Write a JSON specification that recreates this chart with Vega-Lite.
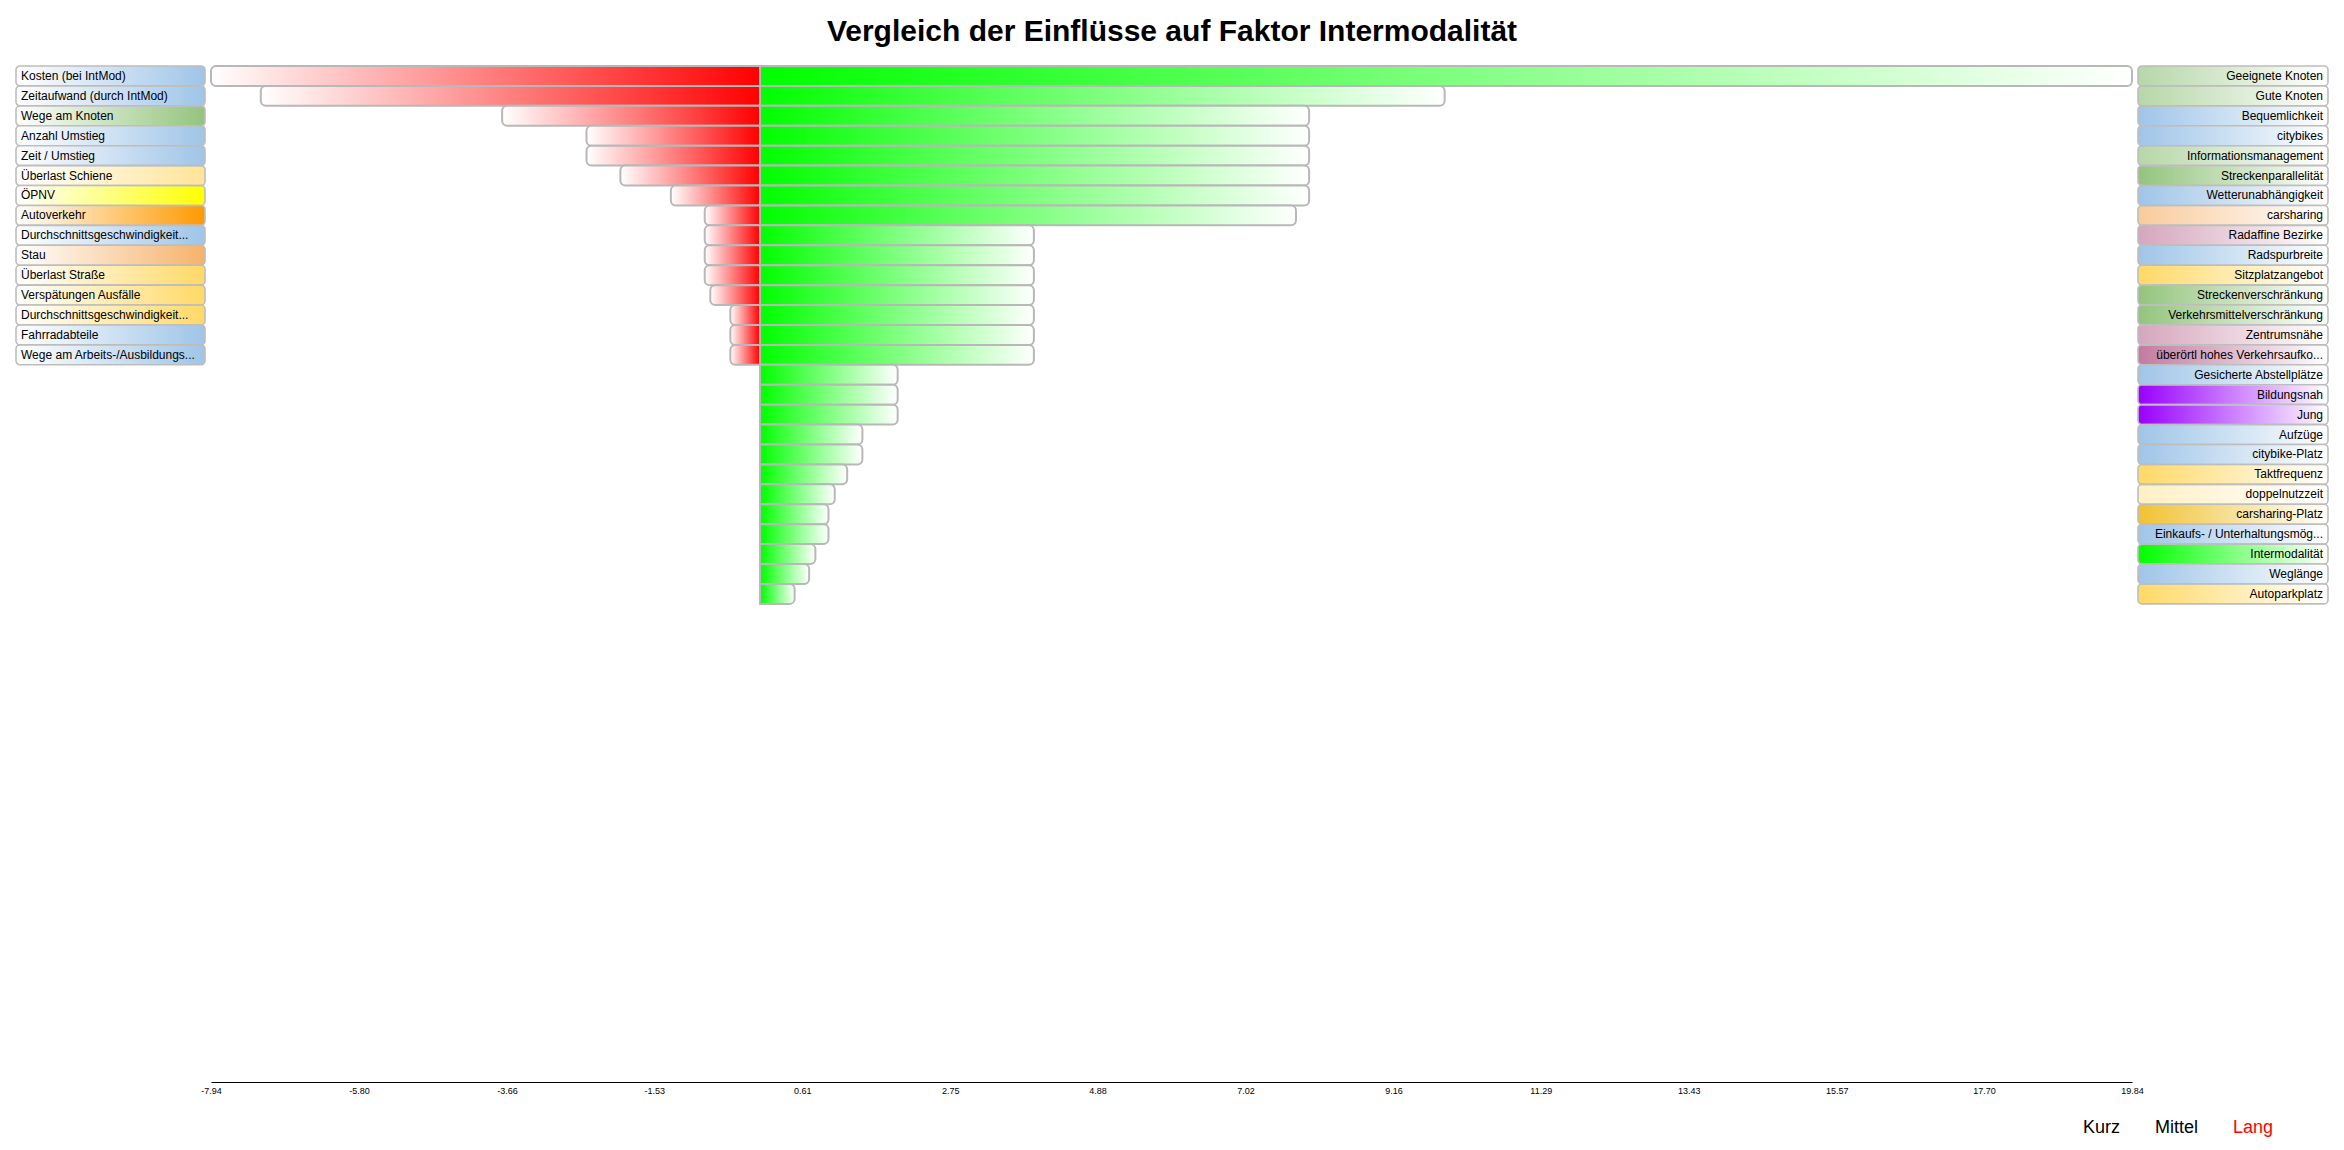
{
  "$schema": "https://vega.github.io/schema/vega-lite/v6.json",
  "title": {"text": "Vergleich der Einflüsse auf Faktor Intermodalität", "fontSize": 30, "fontWeight": "bold", "font": "Liberation Sans", "color": "#000000", "anchor": "middle", "offset": 18},
  "padding": {"left": 15, "top": 17, "right": 15, "bottom": 8},
  "bounds": "flush",
  "spacing": 6,
  "datasets": {
    "faktoren": [
      {"seite": "negativ", "rang": 1, "faktor": "Kosten (bei IntMod)", "wert": -7.94, "gruppe": "A"},
      {"seite": "negativ", "rang": 2, "faktor": "Zeitaufwand (durch IntMod)", "wert": -7.22, "gruppe": "A"},
      {"seite": "negativ", "rang": 3, "faktor": "Wege am Knoten", "wert": -3.73, "gruppe": "C"},
      {"seite": "negativ", "rang": 4, "faktor": "Anzahl Umstieg", "wert": -2.51, "gruppe": "A"},
      {"seite": "negativ", "rang": 5, "faktor": "Zeit / Umstieg", "wert": -2.51, "gruppe": "A"},
      {"seite": "negativ", "rang": 6, "faktor": "Überlast Schiene", "wert": -2.02, "gruppe": "D"},
      {"seite": "negativ", "rang": 7, "faktor": "ÖPNV", "wert": -1.29, "gruppe": "E"},
      {"seite": "negativ", "rang": 8, "faktor": "Autoverkehr", "wert": -0.80, "gruppe": "F"},
      {"seite": "negativ", "rang": 9, "faktor": "Durchschnittsgeschwindigkeit...", "wert": -0.80, "gruppe": "A"},
      {"seite": "negativ", "rang": 10, "faktor": "Stau", "wert": -0.80, "gruppe": "G"},
      {"seite": "negativ", "rang": 11, "faktor": "Überlast Straße", "wert": -0.80, "gruppe": "H"},
      {"seite": "negativ", "rang": 12, "faktor": "Verspätungen Ausfälle", "wert": -0.72, "gruppe": "H"},
      {"seite": "negativ", "rang": 13, "faktor": "Durchschnittsgeschwindigkeit...", "wert": -0.43, "gruppe": "H"},
      {"seite": "negativ", "rang": 14, "faktor": "Fahrradabteile", "wert": -0.43, "gruppe": "A"},
      {"seite": "negativ", "rang": 15, "faktor": "Wege am Arbeits-/Ausbildungs...", "wert": -0.43, "gruppe": "A"},
      {"seite": "positiv", "rang": 1, "faktor": "Geeignete Knoten", "wert": 19.84, "gruppe": "B"},
      {"seite": "positiv", "rang": 2, "faktor": "Gute Knoten", "wert": 9.90, "gruppe": "B"},
      {"seite": "positiv", "rang": 3, "faktor": "Bequemlichkeit", "wert": 7.94, "gruppe": "A"},
      {"seite": "positiv", "rang": 4, "faktor": "citybikes", "wert": 7.94, "gruppe": "A"},
      {"seite": "positiv", "rang": 5, "faktor": "Informationsmanagement", "wert": 7.94, "gruppe": "B"},
      {"seite": "positiv", "rang": 6, "faktor": "Streckenparallelität", "wert": 7.94, "gruppe": "C"},
      {"seite": "positiv", "rang": 7, "faktor": "Wetterunabhängigkeit", "wert": 7.94, "gruppe": "A"},
      {"seite": "positiv", "rang": 8, "faktor": "carsharing", "wert": 7.75, "gruppe": "I"},
      {"seite": "positiv", "rang": 9, "faktor": "Radaffine  Bezirke", "wert": 3.96, "gruppe": "J"},
      {"seite": "positiv", "rang": 10, "faktor": "Radspurbreite", "wert": 3.96, "gruppe": "A"},
      {"seite": "positiv", "rang": 11, "faktor": "Sitzplatzangebot", "wert": 3.96, "gruppe": "H"},
      {"seite": "positiv", "rang": 12, "faktor": "Streckenverschränkung", "wert": 3.96, "gruppe": "C"},
      {"seite": "positiv", "rang": 13, "faktor": "Verkehrsmittelverschränkung", "wert": 3.96, "gruppe": "C"},
      {"seite": "positiv", "rang": 14, "faktor": "Zentrumsnähe", "wert": 3.96, "gruppe": "J"},
      {"seite": "positiv", "rang": 15, "faktor": "überörtl hohes Verkehrsaufko...", "wert": 3.96, "gruppe": "K"},
      {"seite": "positiv", "rang": 16, "faktor": "Gesicherte Abstellplätze", "wert": 1.99, "gruppe": "A"},
      {"seite": "positiv", "rang": 17, "faktor": "Bildungsnah", "wert": 1.99, "gruppe": "L"},
      {"seite": "positiv", "rang": 18, "faktor": "Jung", "wert": 1.99, "gruppe": "L"},
      {"seite": "positiv", "rang": 19, "faktor": "Aufzüge", "wert": 1.48, "gruppe": "A"},
      {"seite": "positiv", "rang": 20, "faktor": "citybike-Platz", "wert": 1.48, "gruppe": "A"},
      {"seite": "positiv", "rang": 21, "faktor": "Taktfrequenz", "wert": 1.26, "gruppe": "H"},
      {"seite": "positiv", "rang": 22, "faktor": "doppelnutzzeit", "wert": 1.08, "gruppe": "O"},
      {"seite": "positiv", "rang": 23, "faktor": "carsharing-Platz", "wert": 0.99, "gruppe": "N"},
      {"seite": "positiv", "rang": 24, "faktor": "Einkaufs- / Unterhaltungsmög...", "wert": 0.99, "gruppe": "A"},
      {"seite": "positiv", "rang": 25, "faktor": "Intermodalität", "wert": 0.80, "gruppe": "M"},
      {"seite": "positiv", "rang": 26, "faktor": "Weglänge", "wert": 0.71, "gruppe": "A"},
      {"seite": "positiv", "rang": 27, "faktor": "Autoparkplatz", "wert": 0.50, "gruppe": "H"}
    ]
  },
  "data": {"name": "faktoren"},
  "hconcat": [
    {
      "width": 189,
      "height": 1016,
      "transform": [{"filter": "datum.seite === 'negativ'"}],
      "encoding": {
        "y": {"field": "rang", "type": "ordinal", "axis": null, "scale": {"domain": [1,2,3,4,5,6,7,8,9,10,11,12,13,14,15,16,17,18,19,20,21,22,23,24,25,26,27,28,29,30,31,32,33,34,35,36,37,38,39,40,41,42,43,44,45,46,47,48,49,50,51], "paddingInner": 0, "paddingOuter": 0}},
        "x": {"datum": 0, "type": "quantitative", "scale": {"domain": [0, 1]}, "axis": null}
      },
      "layer": [
        {
          "mark": {"type": "rect", "cornerRadius": 4},
          "encoding": {
            "x2": {"datum": 1},
            "fill": {"field": "gruppe", "type": "nominal", "legend": null, "scale": {"domain": ["A","B","C","D","E","F","G","H","I","J","K","L","M","N","O"], "range": ["#9fc5e8","#b6d7a8","#93c47d","#ffe599","#ffff00","#ff9900","#f6b26b","#ffd966","#f9cb9c","#d5a6bd","#c27ba0","#9900ff","#00ff00","#f1c232","#fff0c4"]}}
          }
        },
        {
          "mark": {"type": "rect", "cornerRadius": 4, "stroke": "#bdbdbd", "strokeWidth": 1.6,
            "fill": {"gradient": "linear", "x1": 0, "y1": 0, "x2": 1, "y2": 0, "stops": [{"offset": 0, "color": "rgba(255,255,255,1)"}, {"offset": 1, "color": "rgba(255,255,255,0)"}]}},
          "encoding": {
            "x2": {"datum": 1}
          }
        },
        {
          "mark": {"type": "text", "align": "left", "baseline": "middle", "dx": 5, "fontSize": 12, "font": "Liberation Sans", "color": "#000000"},
          "encoding": {
            "text": {"field": "faktor"}
          }
        }
      ]
    },
    {
      "width": 1921,
      "height": 1016,
      "encoding": {
        "y": {"field": "rang", "type": "ordinal", "axis": null, "scale": {"domain": [1,2,3,4,5,6,7,8,9,10,11,12,13,14,15,16,17,18,19,20,21,22,23,24,25,26,27,28,29,30,31,32,33,34,35,36,37,38,39,40,41,42,43,44,45,46,47,48,49,50,51], "paddingInner": 0, "paddingOuter": 0}},
        "x": {"field": "wert", "type": "quantitative",
          "scale": {"domain": [-7.94, 19.84], "nice": false, "zero": false},
          "axis": {"title": null, "values": [-7.94, -5.80, -3.66, -1.53, 0.61, 2.75, 4.88, 7.02, 9.16, 11.29, 13.43, 15.57, 17.70, 19.84],
            "labelExpr": "replace(format(datum.value, '.2f'), '−', '-')",
            "ticks": false, "grid": false, "domainColor": "#000000", "domainWidth": 1,
            "labelFontSize": 9, "labelFont": "Liberation Sans", "labelColor": "#000000", "labelPadding": 4, "labelFlush": false, "labelOverlap": false}},
        "x2": {"datum": 0},
        "opacity": {"datum": "Lang", "type": "ordinal",
          "scale": {"domain": ["Kurz", "Mittel", "Lang"], "range": [1, 1, 1]},
          "legend": {"title": null, "orient": "none", "legendX": 2049, "legendY": 1053, "direction": "horizontal", "columns": 3,
            "symbolSize": 0.01, "symbolOpacity": 0, "symbolStrokeWidth": 0, "labelOffset": 0, "columnPadding": 16, "padding": 0,
            "labelFontSize": 18, "labelFont": "Liberation Sans",
            "labelColor": {"expr": "datum.value === 'Lang' ? '#ff0000' : '#000000'"}}}
      },
      "layer": [
        {
          "transform": [{"filter": "datum.seite === 'negativ'"}],
          "mark": {"type": "bar", "stroke": "#b8b8b8", "strokeWidth": 2, "cornerRadiusTopLeft": 5, "cornerRadiusBottomLeft": 5,
            "fill": {"gradient": "linear", "x1": 0, "y1": 0, "x2": 1, "y2": 0, "stops": [{"offset": 0, "color": "#ffffff"}, {"offset": 1, "color": "#ff0000"}]}}
        },
        {
          "transform": [{"filter": "datum.seite === 'positiv'"}],
          "mark": {"type": "bar", "stroke": "#b8b8b8", "strokeWidth": 2, "cornerRadiusTopRight": 5, "cornerRadiusBottomRight": 5,
            "fill": {"gradient": "linear", "x1": 0, "y1": 0, "x2": 1, "y2": 0, "stops": [{"offset": 0, "color": "#00ff00"}, {"offset": 1, "color": "#ffffff"}]}}
        }
      ]
    },
    {
      "width": 190,
      "height": 1016,
      "transform": [{"filter": "datum.seite === 'positiv'"}],
      "encoding": {
        "y": {"field": "rang", "type": "ordinal", "axis": null, "scale": {"domain": [1,2,3,4,5,6,7,8,9,10,11,12,13,14,15,16,17,18,19,20,21,22,23,24,25,26,27,28,29,30,31,32,33,34,35,36,37,38,39,40,41,42,43,44,45,46,47,48,49,50,51], "paddingInner": 0, "paddingOuter": 0}}
      },
      "layer": [
        {
          "mark": {"type": "rect", "cornerRadius": 4},
          "encoding": {
            "x": {"datum": 0, "type": "quantitative", "scale": {"domain": [0, 1]}, "axis": null},
            "x2": {"datum": 1},
            "fill": {"field": "gruppe", "type": "nominal", "legend": null}
          }
        },
        {
          "mark": {"type": "rect", "cornerRadius": 4, "stroke": "#bdbdbd", "strokeWidth": 1.6,
            "fill": {"gradient": "linear", "x1": 0, "y1": 0, "x2": 1, "y2": 0, "stops": [{"offset": 0, "color": "rgba(255,255,255,0)"}, {"offset": 1, "color": "rgba(255,255,255,1)"}]}},
          "encoding": {
            "x": {"datum": 0, "type": "quantitative"},
            "x2": {"datum": 1}
          }
        },
        {
          "mark": {"type": "text", "align": "right", "baseline": "middle", "dx": -5, "fontSize": 12, "font": "Liberation Sans", "color": "#000000"},
          "encoding": {
            "x": {"datum": 1, "type": "quantitative"},
            "text": {"field": "faktor"}
          }
        }
      ]
    }
  ],
  "config": {"view": {"stroke": null}, "font": "Liberation Sans"}
}
